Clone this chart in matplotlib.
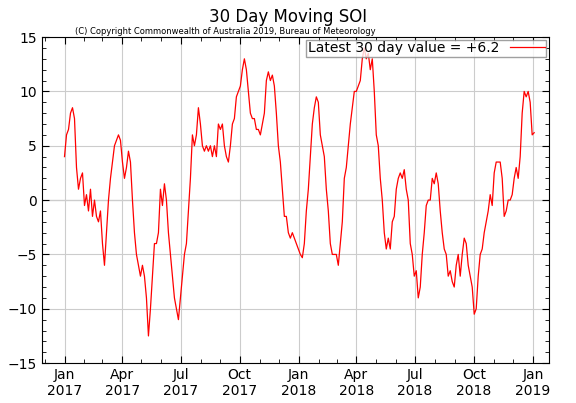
import matplotlib
matplotlib.use("Agg")
import matplotlib.pyplot as plt
import matplotlib.dates as mdates
import pandas as pd

soi = [4,6,6.5,8,8.5,7.5,3,1,2,2.5,-0.5,0.5,-1,1,-1.5,0,-1.5,-2,-1,-4,-6,-3,0,2,3.5,5,5.5,6,5.5,3.5,
       2,3,4.5,3.5,0,-3,-5,-6,-7,-6,-7,-9,-12.5,-10,-7,-4,-4,-3,1,-0.5,1.5,0,-3,-5,-7,-9,-10,-11,-9,-7,
       -5,-4,-1,2,6,5,6,8.5,7,5,4.5,5,4.5,5,4,5,4,7,6.5,7,5,4,3.5,5,7,7.5,9.5,10,10.5,12,
       13,12,10,8,7.5,7.5,6.5,6.5,6,7,8,11,11.8,11,11.5,10.5,8,5,3.5,1,-1.5,-1.5,-3,-3.5,-3,-3.5,
       -4,-4.5,-5,-5.3,-4,-1,1,4,7,8.5,9.5,9,6,5,4,1,-1,-4,-5,-5,-5,-6,-4,-2,
       2,3,5,7,8.5,10,10,10.5,11,13,14,13,13.5,12,13,10,6,5,2,0,-3,-4.5,-3.5,-4.5,-2,-1.5,
       1,2,2.5,2,2.8,1,0,-4,-5,-7,-6.5,-9,-8,-5,-3,-0.5,0,0,2,1.5,2.5,1.5,-1,-3,-4.5,-5,
       -7,-6.5,-7.5,-8,-6,-5,-7,-5,-3.5,-4,-6,-7,-8,-10.5,-10,-7,-5,-4.5,-3,-2,-1,0.5,-0.5,2.5,
       3.5,3.5,3.5,2,-1.5,-1,0,0,0.5,2,3,2,4,8,10,9.5,10,9,6,6.2]
dates = pd.date_range("2017-01-01", "2019-01-03", periods=len(soi))
latest = "+6.2"

fig = plt.figure(figsize=(5.76, 4.03), dpi=100)
ax = fig.add_axes([0.073, 0.099, 0.88, 0.809])
ax.plot(dates, soi, color="red", lw=0.9, label=f"Latest 30 day value = {latest}")
ax.axhline(0, color="#888888", lw=0.8, zorder=0)
ax.set_ylim(-15, 15)
ax.set_xlim(pd.Timestamp("2016-11-27"), pd.Timestamp("2019-01-26"))
ax.set_yticks(range(-15, 16, 5))
ax.set_yticks(range(-15, 16, 1), minor=True)
ax.xaxis.set_major_locator(mdates.MonthLocator(bymonth=[1, 4, 7, 10]))
ax.xaxis.set_minor_locator(mdates.MonthLocator())
ax.xaxis.set_major_formatter(mdates.DateFormatter("%b\n%Y"))
ax.grid(True, which="major", color="#cccccc", lw=0.8)
ax.tick_params(which="both", direction="in", top=True, right=True, labelsize=10)
ax.tick_params(which="major", length=5)
ax.tick_params(which="minor", length=3)
for s in ax.spines.values():
    s.set_linewidth(0.8)
ax.legend(loc="upper right", fontsize=10, frameon=True, fancybox=False, edgecolor="#888888",
          borderaxespad=0.2, handlelength=2.5, markerfirst=False, borderpad=0.1)
fig.text(0.5, 0.945, "30 Day Moving SOI", ha="center", fontsize=12)
fig.text(0.13, 0.915, "(C) Copyright Commonwealth of Australia 2019, Bureau of Meteorology", fontsize=6)
fig.savefig("out.png", dpi=100)
